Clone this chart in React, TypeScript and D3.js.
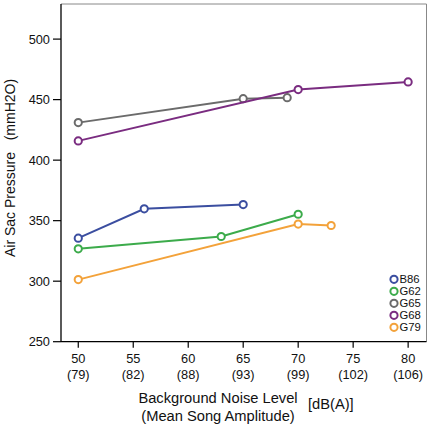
import React from "react";
import * as d3 from "d3";

const W = 431;
const H = 428;

const seriesNames = ["B86", "G62", "G65", "G68", "G79"];
const seriesColors = ["#3b4ea0", "#3cab4b", "#6b6b6b", "#7a2c80", "#f3a23a"];
const B86 = [[50, 335.5], [56, 359.8], [65, 363.3]];
const G62 = [[50, 326.7], [63, 336.9], [70, 355.3]];
const G65 = [[50, 431.0], [65, 450.8], [69, 451.6]];
const G68 = [[50, 415.9], [70, 458.3], [80, 464.6]];
const G79 = [[50, 301.3], [70, 347.2], [73, 346.0]];
const seriesData = [B86, G62, G65, G68, G79];

const xTicks = [50, 55, 60, 65, 70, 75, 80];
const xTickSub = ["(79)", "(82)", "(88)", "(93)", "(99)", "(102)", "(106)"];
const yTicks = [250, 300, 350, 400, 450, 500];

export default function App() {
  const left = 61, right = 426.5, top = 4, bottom = 341.7;
  const x = d3.scaleLinear().domain([48.43, 81.67]).range([left, right]);
  const y = d3.scaleLinear().domain([250, 529]).range([bottom, top]);
  const line = d3.line<number[]>().x((d) => x(d[0])).y((d) => y(d[1]));
  const font = "Liberation Sans, Arial, Helvetica, sans-serif";

  return (
    <svg width={W} height={H} style={{ position: "absolute", left: 0, top: 0 }} fontFamily={font}>
      <rect x={0} y={0} width={W} height={H} fill="#fff" />
      {/* frame */}
      <line x1={left} x2={right} y1={top} y2={top} stroke="#888" strokeWidth={1} />
      <line x1={right} x2={right} y1={top} y2={bottom} stroke="#888" strokeWidth={1} />
      {/* axes */}
      <line x1={left} x2={left} y1={top} y2={bottom} stroke="#000" strokeWidth={1.3} />
      <line x1={left} x2={right} y1={bottom} y2={bottom} stroke="#000" strokeWidth={1.3} />
      {yTicks.map((t) => (
        <g key={t}>
          <line x1={left - 8} x2={left} y1={y(t)} y2={y(t)} stroke="#000" strokeWidth={1.2} />
          <text x={50} y={y(t) + 4.5} textAnchor="end" fontSize={12.8} fill="#111">{t}</text>
        </g>
      ))}
      {xTicks.map((t, i) => (
        <g key={t}>
          <line x1={x(t)} x2={x(t)} y1={bottom} y2={bottom + 6} stroke="#000" strokeWidth={1.2} />
          <text x={x(t)} y={362.5} textAnchor="middle" fontSize={12.8} fill="#111">{t}</text>
          <text x={x(t)} y={378.5} textAnchor="middle" fontSize={12.8} fill="#111">{xTickSub[i]}</text>
        </g>
      ))}
      {/* series */}
      {seriesData.map((s, i) => (
        <g key={seriesNames[i]}>
          <path d={line(s) || ""} fill="none" stroke={seriesColors[i]} strokeWidth={2} />
          {s.map((p, j) => (
            <circle key={j} cx={x(p[0])} cy={y(p[1])} r={3.6} fill="#fff" stroke={seriesColors[i]} strokeWidth={2} />
          ))}
        </g>
      ))}
      {/* legend */}
      {seriesNames.map((n, i) => (
        <g key={n}>
          <circle cx={394} cy={279.3 + i * 12} r={3.6} fill="#fff" stroke={seriesColors[i]} strokeWidth={2} />
          <text x={399.5} y={279.3 + i * 12 + 4} fontSize={11.3} fill="#111">{n}</text>
        </g>
      ))}
      {/* axis titles */}
      <text x={218} y={402.5} textAnchor="middle" fontSize={14.7} fill="#111">Background Noise Level</text>
      <text x={218} y={420.5} textAnchor="middle" fontSize={14.7} fill="#111">(Mean Song Amplitude)</text>
      <text x={308} y={408.5} fontSize={14.7} fill="#111">[dB(A)]</text>
      <text transform={`translate(14.5, 168) rotate(-90)`} textAnchor="middle" fontSize={14} fill="#111" style={{ whiteSpace: "pre" }}>
        {"Air Sac Pressure   (mmH2O)"}
      </text>
    </svg>
  );
}
